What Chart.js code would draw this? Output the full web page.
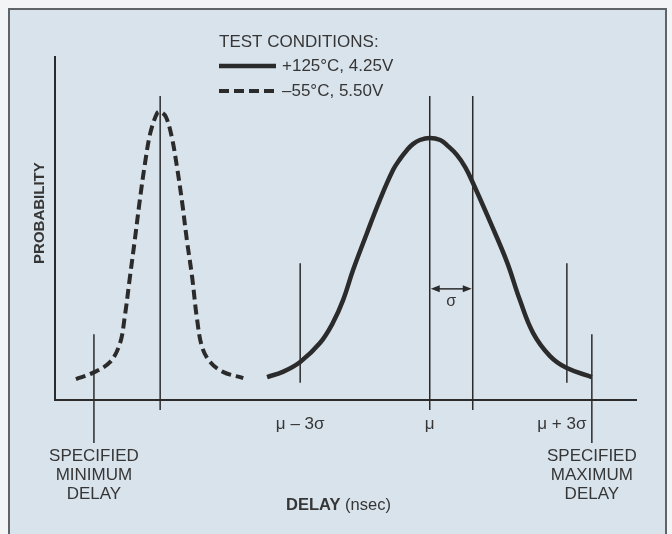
<!DOCTYPE html>
<html>
<head>
<meta charset="utf-8">
<script src="https://cdn.jsdelivr.net/npm/chart.js@4.4.1/dist/chart.umd.min.js"></script>
<style>
  html, body { margin: 0; padding: 0; background: #f2f4f5; }
  #panel {
    position: absolute; left: 8px; top: 8px; width: 655px; height: 540px;
    background: #d9e3ec; border: 2px solid #5f6468; border-bottom: none;
  }
  #wrap { position: absolute; left: 0; top: 0; width: 672px; height: 534px; }
</style>
</head>
<body>
<div id="panel"></div>
<div id="wrap"><canvas id="delayChart" width="672" height="534"></canvas></div>
<script>
// delay axis and probability axis run 0..100 (arbitrary units, no ticks)
const delayRange = [0, 100];
const probRange = [0, 100];

// -55°C, 5.50V distribution (narrow, early)
const coldX = [3.6, 6.5, 9.5, 11.2, 12.0, 12.9, 13.8, 14.6, 15.5, 16.4, 17.6, 18.2, 19.1, 20.1, 21.0, 21.9, 22.7, 23.6, 24.4, 25.3, 26.7, 28.9, 32.4];
const coldY = [6.1, 7.9, 11.1, 16.6, 24.2, 35.9, 47.5, 58.3, 69.1, 77.8, 83.7, 84.0, 82.5, 76.7, 67.9, 57.4, 46.6, 35.9, 24.2, 15.5, 11.1, 8.2, 6.4];

// +125°C, 4.25V distribution (wide, late)
const hotX = [36.5, 39.2, 42.2, 45.6, 47.8, 49.6, 51.3, 53.7, 55.9, 58.2, 59.4, 60.6, 61.6, 62.8, 64.5, 66.3, 67.6, 69.2, 70.6, 71.9, 74.9, 77.8, 80.0, 82.3, 85.2, 88.1, 92.4];
const hotY = [6.7, 8.2, 11.1, 16.6, 22.4, 29.2, 37.9, 48.7, 58.3, 67.1, 70.3, 72.9, 74.6, 75.8, 76.4, 75.8, 74.1, 71.4, 67.9, 63.4, 51.9, 40.2, 29.2, 19.5, 12.8, 9.3, 6.7];

// reference lines: cold peak, mu, mu + sigma
const peakLineX = [18.1, 64.5, 71.9];
const peakLineSpan = [-2.9, 88.6];
// mu - 3 sigma, mu + 3 sigma
const sigma3X = [42.2, 88.1];
const sigma3Span = [5.0, 39.9];
// specified min / max delay
const specX = [6.7, 92.4];
const specSpan = [-12.5, 19.2];

const sigmaArrowY = 32.4;

const seriesLabels = ['+125°C, 4.25V', '–55°C, 5.50V'];
const legendTitle = 'TEST CONDITIONS:';
const markerLabels = ['μ – 3σ', 'μ', 'μ + 3σ'];
const specLabels = [['SPECIFIED', 'MINIMUM', 'DELAY'], ['SPECIFIED', 'MAXIMUM', 'DELAY']];

const ink = '#2b2b2b';
const textInk = '#363636';
const font = '"Liberation Sans", Arial, Helvetica, sans-serif';

const toPoints = (xs, ys) => xs.map((v, i) => ({ x: v, y: ys[i] }));

function vline(xv, span) {
    return {
        data: [{ x: xv, y: span[0] }, { x: xv, y: span[1] }],
        borderColor: ink, borderWidth: 1.5, pointRadius: 0, tension: 0, clip: false
    };
}

const datasets = [
    ...peakLineX.map(v => vline(v, peakLineSpan)),
    ...sigma3X.map(v => vline(v, sigma3Span)),
    ...specX.map(v => vline(v, specSpan)),
    {
        label: seriesLabels[0], data: toPoints(hotX, hotY),
        borderColor: ink, borderWidth: 4.5, pointRadius: 0,
        tension: 0.4, borderCapStyle: 'butt'
    },
    {
        label: seriesLabels[1], data: toPoints(coldX, coldY),
        borderColor: ink, borderWidth: 4, borderDash: [10, 5], pointRadius: 0,
        tension: 0.35, borderCapStyle: 'butt'
    }
];

const annotations = {
    id: 'annotations',
    afterDatasetsDraw(chart) {
        const { ctx, scales: { x, y } } = chart;
        const axisY = y.getPixelForValue(0);
        ctx.save();
        ctx.fillStyle = textInk;
        ctx.strokeStyle = ink;
        ctx.textAlign = 'center';
        ctx.textBaseline = 'middle';

        // sigma arrow between mu and mu + sigma
        const ax1 = x.getPixelForValue(peakLineX[1]) + 1;
        const ax2 = x.getPixelForValue(peakLineX[2]) - 1;
        const ay = y.getPixelForValue(sigmaArrowY);
        ctx.lineWidth = 1.5;
        ctx.beginPath();
        ctx.moveTo(ax1 + 6, ay); ctx.lineTo(ax2 - 6, ay);
        ctx.stroke();
        ctx.fillStyle = ink;
        ctx.beginPath();
        ctx.moveTo(ax1, ay); ctx.lineTo(ax1 + 9, ay - 3.5); ctx.lineTo(ax1 + 9, ay + 3.5); ctx.closePath();
        ctx.moveTo(ax2, ay); ctx.lineTo(ax2 - 9, ay - 3.5); ctx.lineTo(ax2 - 9, ay + 3.5); ctx.closePath();
        ctx.fill();
        ctx.fillStyle = textInk;
        ctx.font = '16px ' + font;
        ctx.fillText('σ', (ax1 + ax2) / 2, ay + 13);

        // labels under the delay axis; the last one sits just left of the spec line
        ctx.font = '17px ' + font;
        const markX = [sigma3X[0], peakLineX[1], sigma3X[1]];
        const nudge = [0, 0, -5];
        markerLabels.forEach((t, i) => ctx.fillText(t, x.getPixelForValue(markX[i]) + nudge[i], axisY + 24));

        specLabels.forEach((lines, i) => {
            const cx = x.getPixelForValue(specX[i]);
            lines.forEach((t, j) => ctx.fillText(t, cx, axisY + 56 + j * 19));
        });

        // axis titles
        const bold = 'DELAY';
        const rest = ' (nsec)';
        ctx.font = '16.5px ' + font;
        const wRest = ctx.measureText(rest).width;
        ctx.font = 'bold 16.5px ' + font;
        const wBold = ctx.measureText(bold).width;
        const tx = x.getPixelForValue(48.8) - (wBold + wRest) / 2;
        ctx.textAlign = 'left';
        ctx.fillText(bold, tx, axisY + 105);
        ctx.font = '16.5px ' + font;
        ctx.fillText(rest, tx + wBold, axisY + 105);

        ctx.save();
        ctx.translate(x.left - 15, y.getPixelForValue(54.5));
        ctx.rotate(-Math.PI / 2);
        ctx.textAlign = 'center';
        ctx.font = 'bold 15px ' + font;
        ctx.fillText('PROBABILITY', 0, 0);
        ctx.restore();

        // legend, drawn with each series' own stroke style
        const lx = 219, ly = 42;
        ctx.textAlign = 'left';
        ctx.font = '17px ' + font;
        ctx.fillText(legendTitle, lx, ly);
        const series = chart.data.datasets.filter(d => d.label);
        series.forEach((ds, i) => {
            const yy = ly + 24 + i * 25;
            ctx.lineWidth = ds.borderWidth;
            ctx.setLineDash(ds.borderDash || []);
            ctx.beginPath();
            ctx.moveTo(lx, yy); ctx.lineTo(lx + 57, yy);
            ctx.stroke();
            ctx.setLineDash([]);
            ctx.fillText(ds.label, lx + 63, yy);
        });
        ctx.restore();
    }
};

new Chart(document.getElementById('delayChart'), {
    type: 'line',
    data: { datasets },
    options: {
        responsive: false,
        animation: false,
        events: [],
        layout: { padding: { left: 55, top: 57, right: 36, bottom: 134 } },
        plugins: { legend: { display: false }, tooltip: { enabled: false } },
        scales: {
            x: {
                type: 'linear', min: delayRange[0], max: delayRange[1],
                grid: { display: false, drawTicks: false },
                ticks: { display: false },
                border: { color: ink, width: 2 }
            },
            y: {
                type: 'linear', min: probRange[0], max: probRange[1],
                grid: { display: false, drawTicks: false },
                ticks: { display: false },
                border: { color: ink, width: 2 }
            }
        }
    },
    plugins: [annotations]
});
</script>
</body>
</html>
